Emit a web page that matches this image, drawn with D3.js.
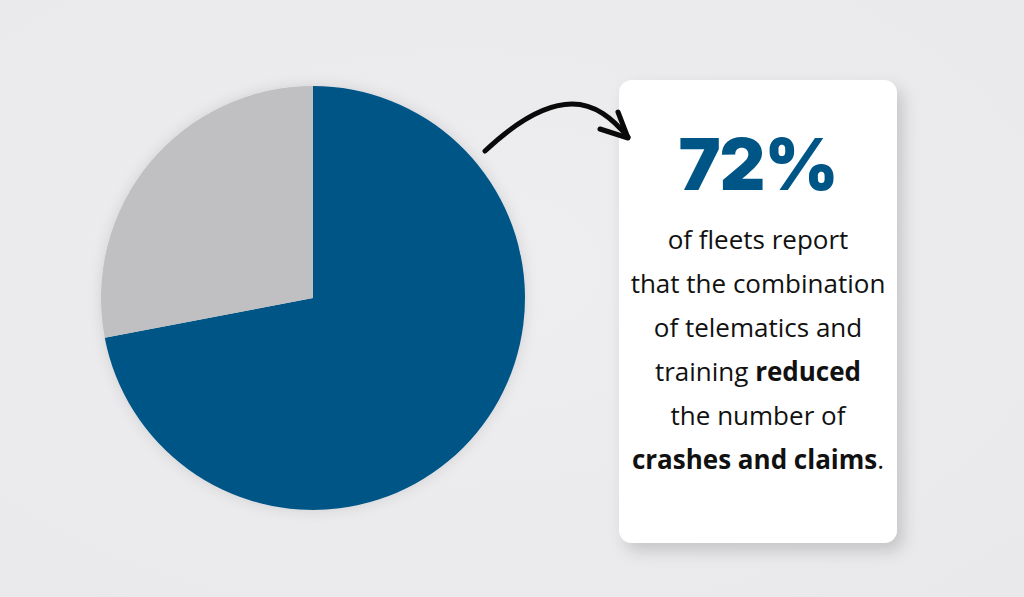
<!DOCTYPE html>
<html><head><meta charset="utf-8">
<script src="https://cdn.jsdelivr.net/npm/d3@7"></script>
<style>
html,body{margin:0;padding:0;background:#ebebed;}
svg{display:block;}
</style></head>
<body>
<script>
const categories = ["Reduced crashes and claims", "Other"];
const values = [72, 28];
const colors = ["#005587", "#c0c0c3"];
const headline = "72%";
const bodyLines = [
  [{t:"of fleets report", b:false}],
  [{t:"that the combination", b:false}],
  [{t:"of telematics and", b:false}],
  [{t:"training ", b:false},{t:"reduced", b:true}],
  [{t:"the number of", b:false}],
  [{t:"crashes and claims", b:true},{t:".", b:false}]
];

const W = 1024, H = 597;
const svg = d3.select("body").append("svg").attr("width", W).attr("height", H);
const defs = svg.append("defs");

const bg = defs.append("radialGradient").attr("id","bg").attr("cx","45%").attr("cy","45%").attr("r","75%");
bg.append("stop").attr("offset","0%").attr("stop-color","#eeeef0");
bg.append("stop").attr("offset","100%").attr("stop-color","#e9e9eb");
svg.append("rect").attr("width",W).attr("height",H).attr("fill","url(#bg)");

const fp = defs.append("filter").attr("id","pieShadow").attr("x","-20%").attr("y","-20%").attr("width","140%").attr("height","140%");
fp.append("feDropShadow").attr("dx",0).attr("dy",0).attr("stdDeviation",7).attr("flood-color","#000").attr("flood-opacity",0.12);

const fc = defs.append("filter").attr("id","cardShadow").attr("x","-20%").attr("y","-20%").attr("width","140%").attr("height","140%");
fc.append("feDropShadow").attr("dx",6).attr("dy",8).attr("stdDeviation",8).attr("flood-color","#000").attr("flood-opacity",0.16);

// Pie
const cx = 313, cy = 298, R = 212;
const pie = d3.pie().sort(null).value(d => d.v)(categories.map((c,i)=>({c, v: values[i]})));
const arc = d3.arc().innerRadius(0).outerRadius(R);
const pg = svg.append("g").attr("transform",`translate(${cx},${cy})`).attr("filter","url(#pieShadow)");
pg.selectAll("path").data(pie).join("path")
  .attr("d", arc)
  .attr("fill", (d,i)=>colors[i]);

// Card
const card = {x:619, y:80, w:278, h:463};
svg.append("rect").attr("x",card.x).attr("y",card.y).attr("width",card.w).attr("height",card.h)
  .attr("rx",13).attr("fill","#ffffff").attr("filter","url(#cardShadow)");

// Arrow (drawn over the card edge)
const arrow = svg.append("g").attr("fill","none").attr("stroke","#0a0a0a").attr("stroke-width",5).attr("stroke-linecap","round").attr("stroke-linejoin","round");
arrow.append("path").attr("d","M485,151 C520,118 548,104 572,104 C595,104 612,118 628,137");
arrow.append("path").attr("d","M600,129 L628,138 L618,112");

const mid = card.x + card.w/2;
svg.append("text").attr("x", mid).attr("y", 190).attr("text-anchor","middle")
  .attr("font-family","Inter, 'DejaVu Sans', sans-serif").attr("font-weight",900)
  .attr("font-size",71).attr("fill","#005587").attr("letter-spacing","-1")
  .text(headline);

const lineY = [249, 293, 337, 381, 425, 469];
bodyLines.forEach((parts,i)=>{
  const t = svg.append("text").attr("x", mid).attr("y", lineY[i]).attr("text-anchor","middle")
    .attr("font-family","'Open Sans', sans-serif").attr("font-size",26).attr("fill","#111")
    .attr("xml:space","preserve");
  parts.forEach(p => t.append("tspan").attr("font-weight", p.b ? 700 : 400).text(p.t));
});
</script>
</body></html>
